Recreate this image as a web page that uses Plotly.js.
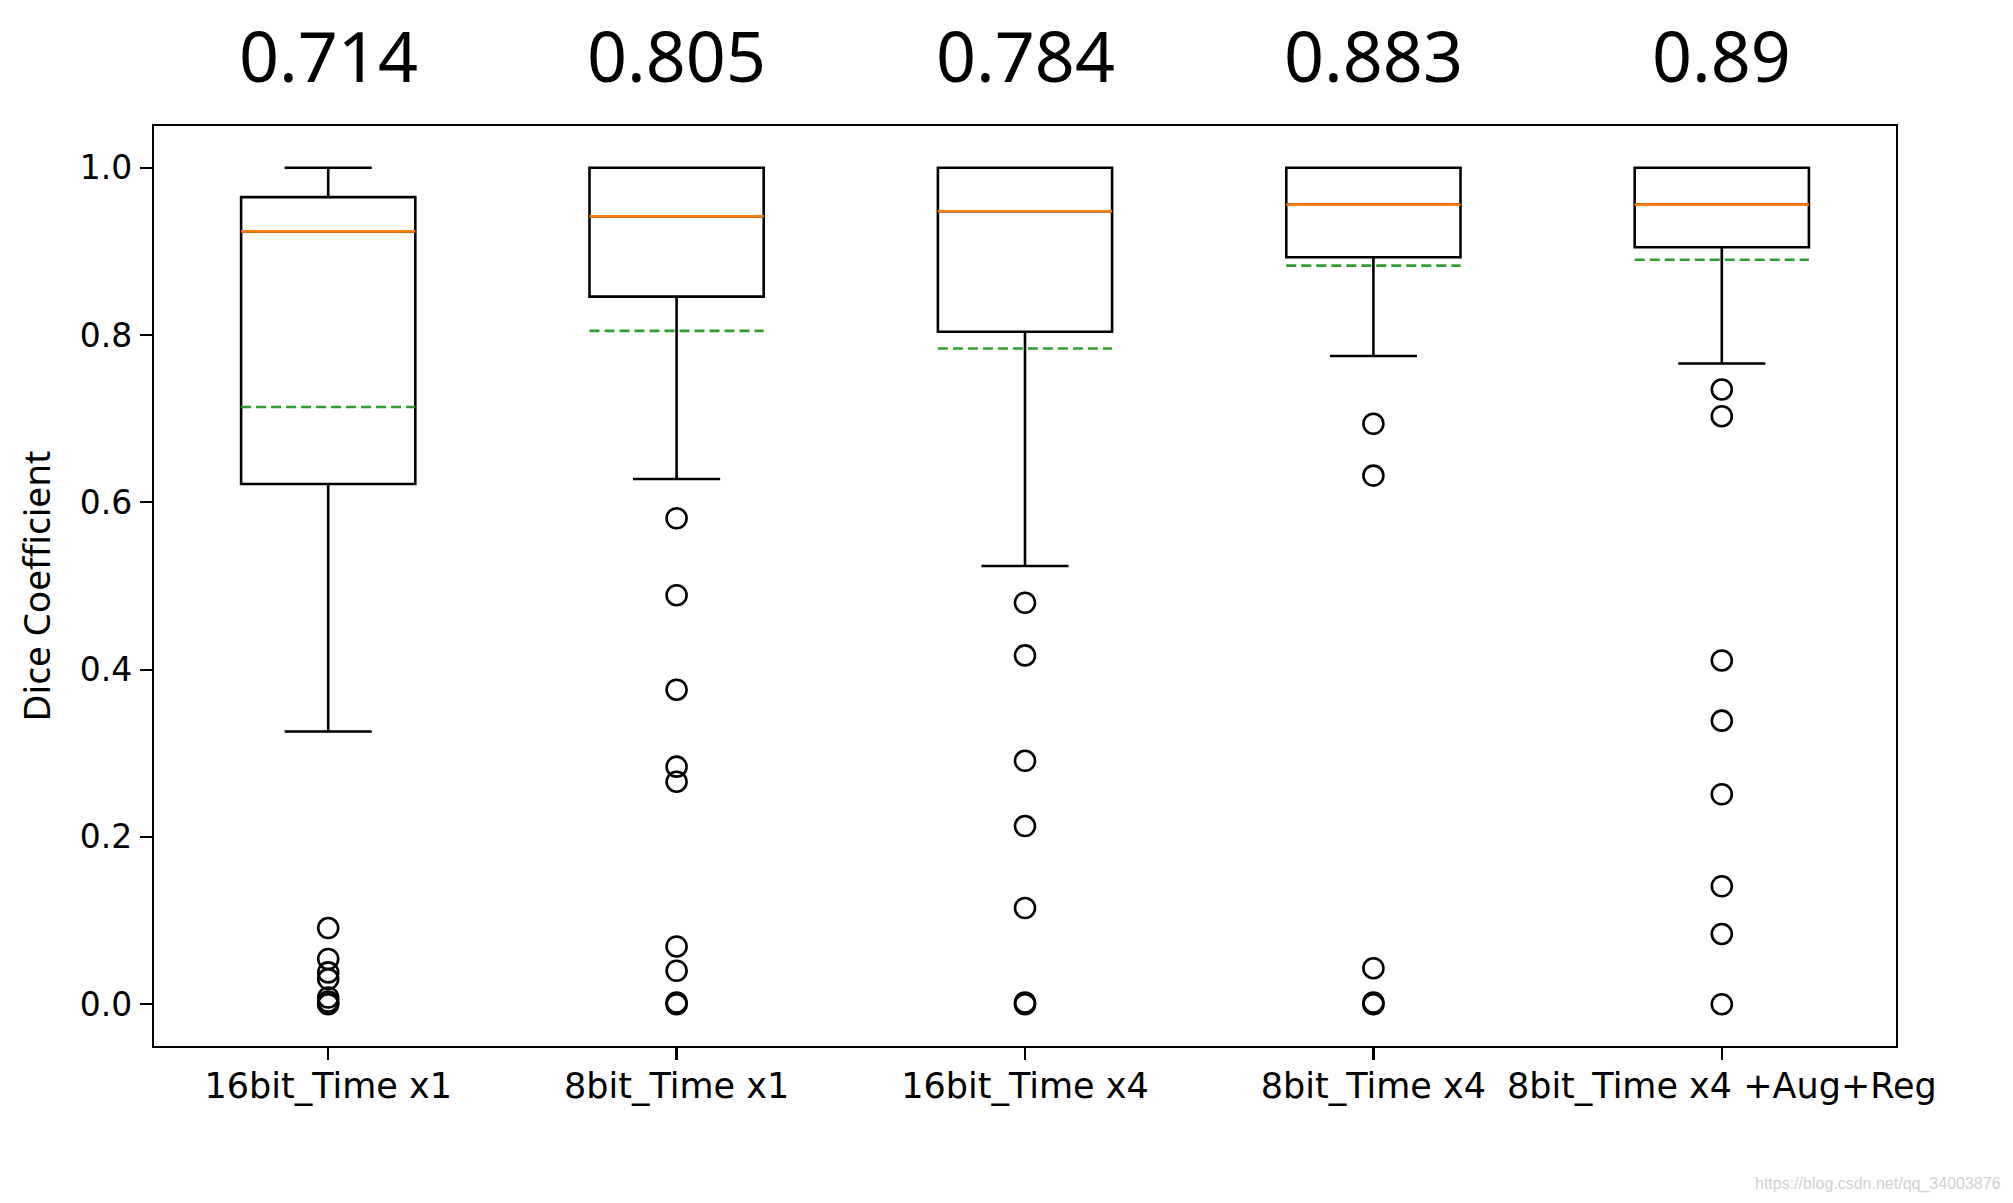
<!DOCTYPE html>
<html>
<head>
<meta charset="utf-8">
<script src="https://cdn.plot.ly/plotly-3.0.1.min.js"></script>
<style>
html, body { margin: 0; padding: 0; background: #ffffff; }
#chart { width: 2013px; height: 1203px; }
</style>
</head>
<body>
<div id="chart"></div>
<script>
// ---- data ----
const categories = ['16bit_Time x1', '8bit_Time x1', '16bit_Time x4', '8bit_Time x4', '8bit_Time x4 +Aug+Reg'];
const q1Values = [0.622, 0.846, 0.804, 0.893, 0.905];
const medianValues = [0.924, 0.942, 0.948, 0.956, 0.956];
const q3Values = [0.965, 1.0, 1.0, 1.0, 1.0];
const lowerWhiskers = [0.326, 0.628, 0.524, 0.775, 0.766];
const upperWhiskers = [1.0, 1.0, 1.0, 1.0, 1.0];
const meanValues = [0.714, 0.805, 0.784, 0.883, 0.89];
const outliers16x1 = [0.091, 0.054, 0.038, 0.030, 0.008, 0.003, 0.0];
const outliers8x1 = [0.581, 0.489, 0.376, 0.284, 0.266, 0.069, 0.040, 0.002, 0.0];
const outliers16x4 = [0.480, 0.417, 0.291, 0.213, 0.115, 0.002, 0.0];
const outliers8x4 = [0.694, 0.632, 0.043, 0.002, 0.0];
const outliers8x4AugReg = [0.735, 0.703, 0.411, 0.339, 0.251, 0.141, 0.084, 0.0];
const yTickValues = [0.0, 0.2, 0.4, 0.6, 0.8, 1.0];

const outlierGroups = [outliers16x1, outliers8x1, outliers16x4, outliers8x4, outliers8x4AugReg];
const positions = categories.map((_, i) => i + 1);
const halfBox = 0.25;

// boxes (precomputed statistics)
const boxTrace = {
  type: 'box',
  x: positions,
  q1: q1Values,
  median: medianValues,
  q3: q3Values,
  lowerfence: lowerWhiskers,
  upperfence: upperWhiskers,
  width: 0.5,
  whiskerwidth: 0.5,
  boxpoints: false,
  fillcolor: 'rgba(0,0,0,0)',
  line: { color: '#000000', width: 2.6 },
  hoverinfo: 'skip',
  showlegend: false
};

// median lines (orange)
const medX = [], medY = [];
positions.forEach((p, i) => { medX.push(p - halfBox, p + halfBox, null); medY.push(medianValues[i], medianValues[i], null); });
const medianTrace = {
  type: 'scatter', mode: 'lines', x: medX, y: medY,
  line: { color: '#ff7f0e', width: 2.6 }, connectgaps: false, hoverinfo: 'skip', showlegend: false
};

// mean lines (green dashed)
const meanX = [], meanY = [];
positions.forEach((p, i) => { meanX.push(p - halfBox, p + halfBox, null); meanY.push(meanValues[i], meanValues[i], null); });
const meanTrace = {
  type: 'scatter', mode: 'lines', x: meanX, y: meanY,
  line: { color: '#2ca02c', width: 2.6, dash: '10px,5px' }, connectgaps: false, hoverinfo: 'skip', showlegend: false
};

// outliers (open circles)
const outX = [], outY = [];
outlierGroups.forEach((g, i) => g.forEach(v => { outX.push(positions[i]); outY.push(v); }));
const outlierTrace = {
  type: 'scatter', mode: 'markers', x: outX, y: outY,
  marker: { symbol: 'circle-open', size: 20, color: '#000000', line: { width: 2.6, color: '#000000' } },
  hoverinfo: 'skip', showlegend: false
};

const annotations = meanValues.map((m, i) => ({
  x: positions[i], xref: 'x', y: 1.077, yref: 'paper',
  text: String(m), showarrow: false, xanchor: 'center', yanchor: 'middle',
  font: { family: 'Noto Sans, Open Sans, sans-serif', size: 70, color: '#000000' }
}));
annotations.push({
  x: 1.0614, xref: 'paper', y: -0.15, yref: 'paper',
  text: 'https://blog.csdn.net/qq_34003876', showarrow: false, xanchor: 'right', yanchor: 'middle',
  font: { family: 'Liberation Sans Narrow, Liberation Sans, sans-serif', size: 16, color: '#d0d0d0' }
});

const axisCommon = {
  showline: true, mirror: true, linecolor: '#000000', linewidth: 2.2,
  ticks: 'outside', ticklen: 12, tickwidth: 2.2, tickcolor: '#000000',
  showgrid: false, zeroline: false,
  tickfont: { family: 'DejaVu Sans, sans-serif', size: 33, color: '#000000' }
};

const layout = {
  width: 2013, height: 1203,
  margin: { l: 154, r: 117, t: 126, b: 157 },
  paper_bgcolor: '#ffffff', plot_bgcolor: '#ffffff',
  showlegend: false,
  xaxis: Object.assign({}, axisCommon, {
    range: [0.5, 5.5], tickmode: 'array', tickvals: positions, ticktext: categories,
    ticklabelstandoff: -4,
    tickfont: { family: 'DejaVu Sans, sans-serif', size: 35, color: '#000000' }
  }),
  yaxis: Object.assign({}, axisCommon, {
    range: [-0.05, 1.05], tickmode: 'array', tickvals: yTickValues,
    ticktext: yTickValues.map(v => v.toFixed(1)),
    ticklabelstandoff: 1,
    title: { text: 'Dice Coefficient', standoff: 18, font: { family: 'Noto Sans, sans-serif', size: 37, color: '#000000' } }
  }),
  annotations: annotations
};

Plotly.newPlot('chart', [boxTrace, medianTrace, meanTrace, outlierTrace], layout, { staticPlot: true, displayModeBar: false });
</script>
</body>
</html>
